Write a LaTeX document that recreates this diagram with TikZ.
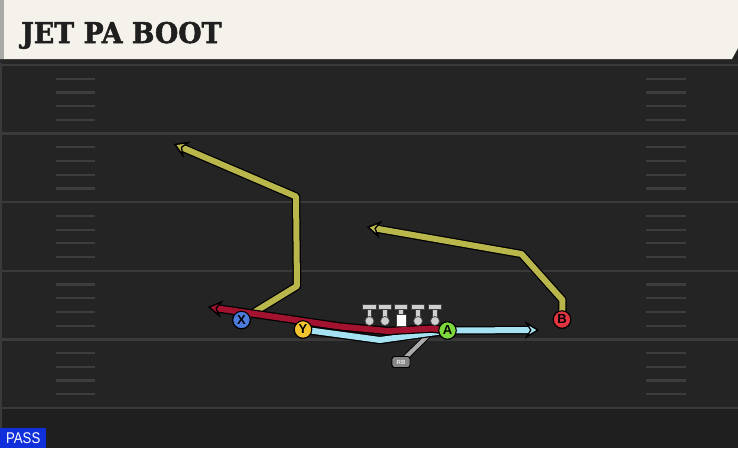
\documentclass[tikz,border=0pt]{standalone}
\usepackage{fontspec}
\setmainfont{Liberation Sans}
\newfontfamily\titlefont{DejaVu Serif}[BoldFeatures={FakeBold=1.8}]
\newfontfamily\labfont{Liberation Sans}
\usetikzlibrary{arrows.meta}
\definecolor{fieldbg}{HTML}{242424}
\definecolor{fieldlow}{HTML}{1F1F1F}
\definecolor{yardline}{HTML}{3A3A3A}
\definecolor{hashc}{HTML}{3D3D3D}
\definecolor{headbg}{HTML}{F5F2EB}
\definecolor{headstrip}{HTML}{A8A8A8}
\definecolor{olive}{HTML}{B9B64B}
\definecolor{jetred}{HTML}{A3122F}
\definecolor{cyanroute}{HTML}{A6E3F2}
\definecolor{rbgray}{HTML}{A9A9A9}
\definecolor{lmgray}{HTML}{CFCFCF}
\definecolor{pblue}{HTML}{4B7BDB}
\definecolor{pyellow}{HTML}{F4C430}
\definecolor{pgreen}{HTML}{7CD83C}
\definecolor{pred}{HTML}{E0343F}
\definecolor{passblue}{HTML}{1030DC}
\tikzset{
  player/.style={circle, draw=black, line width=1.1pt, minimum size=17.5pt, inner sep=0pt,
    font=\labfont\bfseries\fontsize{13}{13}\selectfont, text=black},
  rbbox/.style={rectangle, rounded corners=2.5pt, draw=black, line width=0.9pt, fill=rbgray!80!black,
    minimum width=18pt, minimum height=11pt, inner sep=0pt, font=\labfont\bfseries\fontsize{6}{6}\selectfont, text=white!85!gray},
  outl/.style={draw=black, line width=8.5pt, line join=round},
  routeline/.style={line width=6pt, line join=round},
  rtip/.style={-{Stealth[length=14pt,width=17pt,inset=5pt,line width=1.3pt,color=black,fill=#1]}},
  yardst/.style={draw=yardline, line width=2.4pt},
  hashst/.style={draw=hashc, line width=2.2pt},
}
\begin{document}
\begin{tikzpicture}[x=1pt,y=-1pt]
\useasboundingbox (0,0) rectangle (738,448);
% field
\fill[fieldbg] (0,0) rectangle (738,448);
\fill[fieldlow] (0,408) rectangle (738,448);
\fill[yardline] (0,59) rectangle (1.5,448);
% yard lines and hashes
\foreach \k in {0,...,5}{
  \pgfmathsetmacro{\yy}{65+68.6*\k}
  \draw[yardst] (0,\yy) -- (738,\yy);
}
\foreach \k in {0,...,4}{
  \foreach \j in {1,...,4}{
    \pgfmathsetmacro{\yy}{65+68.6*\k+13.7*\j}
    \draw[hashst] (56,\yy) -- (95,\yy);
    \draw[hashst] (646,\yy) -- (686,\yy);
  }
}
% header
\fill[black!85] (0,59) rectangle (738,62.5);
\fill[headbg] (0,0) -- (738,0) -- (738,48) -- (732,59) -- (0,59) -- cycle;
\fill[headstrip] (0,0) rectangle (4,59);
\node[anchor=base west, inner sep=0pt, font=\titlefont\bfseries\fontsize{28.5}{28.5}\selectfont, text=black!88] (title) at (21,43) {\scalebox{0.94}[1]{JET PA BOOT}};
% players
\node[player, fill=pblue] (X) at (241.5,320) {X};
\node[player, fill=pyellow] (Y) at (303,329.5) {Y};
\node[player, fill=pgreen] (A) at (447.5,330.5) {A};
\node[player, fill=pred] (B) at (562,319.5) {B};
\node[rbbox] (RB) at (401,362) {RB};
% route waypoints
\coordinate (x1) at (297,286);
\coordinate (x2) at (296,196.5);
\coordinate (x3) at (174,144);
\coordinate (b1) at (562.5,300);
\coordinate (b2) at (521.5,254);
\coordinate (b3) at (367,227);
\coordinate (c1) at (380,340);
\coordinate (c2) at (539,330);
\coordinate (r1) at (432,328.5);
\coordinate (r2) at (388,331);
\coordinate (r3) at (340,326.5);
\coordinate (r4) at (208,307);
\coordinate (rbend) at (430,333.5);
% routes (outline then colour)
\draw[outl, rtip=olive] (X.center) -- (x1) -- (x2) -- (x3);
\draw[routeline, olive, rtip=olive] (X.center) -- (x1) -- (x2) -- (x3);
\draw[outl, rtip=olive] (B.center) -- (b1) -- (b2) -- (b3);
\draw[routeline, olive, rtip=olive] (B.center) -- (b1) -- (b2) -- (b3);
\draw[draw=black, line width=6pt, line cap=round] (RB.center) -- (rbend);
\draw[rbgray, line width=4.2pt, line cap=round] (RB.center) -- (rbend);
\draw[outl, rtip=cyanroute] (Y.center) -- (c1) -- (A.center) -- (c2);
\draw[routeline, cyanroute, rtip=cyanroute] (Y.center) -- (c1) -- (A.center) -- (c2);
\draw[outl, rtip=jetred] (A.center) -- (r1) -- (r2) -- (r3) -- (r4);
\draw[routeline, jetred, rtip=jetred] (A.center) -- (r1) -- (r2) -- (r3) -- (r4);
% offensive line
\foreach \lx [count=\i] in {369.5,385,401,418,435}{
  \fill[lmgray, draw=black!75, line width=0.7pt] (\lx-6.8,304) rectangle (\lx+6.8,309.5);
  \fill[lmgray, draw=black!75, line width=0.7pt] (\lx-2.2,309.5) rectangle (\lx+2.2,317);
  \ifnum\i=3
    \fill[white, draw=black!75, line width=0.7pt] (\lx-5,314.5) rectangle (\lx+5,326.5);
  \else
    \fill[lmgray, draw=black!75, line width=0.7pt] (\lx,321) circle (4.5);
  \fi
}
% redraw players above routes
\node[player, fill=pblue] at (X) {X};
\node[player, fill=pyellow] at (Y) {Y};
\node[player, fill=pgreen] at (A) {A};
\node[player, fill=pred] at (B) {B};
\node[rbbox] at (RB) {RB};
% pass tag
\node[anchor=north west, fill=passblue, minimum width=46pt, minimum height=20pt, inner sep=0pt,
  font=\labfont\fontsize{15.5}{15.5}\selectfont, text=white] (pass) at (0,428) {\scalebox{0.85}[1]{PASS}};
\end{tikzpicture}
\end{document}
